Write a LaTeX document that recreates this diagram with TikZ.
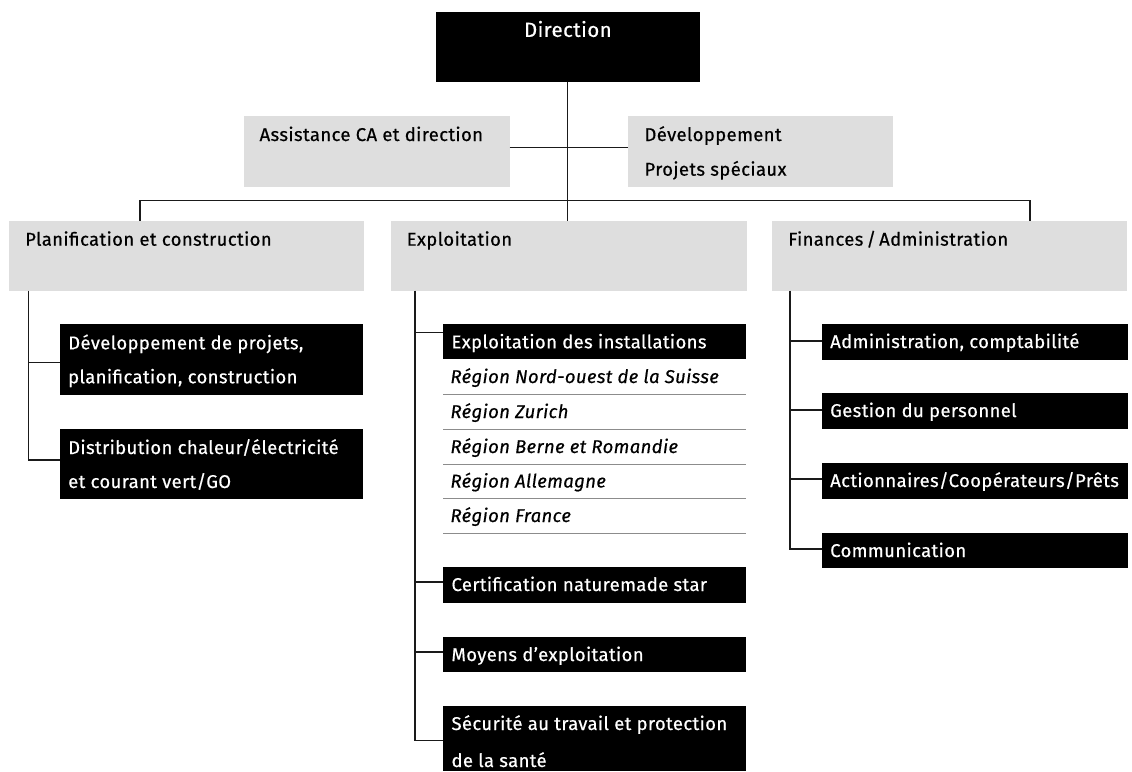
\documentclass[tikz,border=0pt]{standalone}
\usepackage{fontspec}
\setmainfont{Fira Sans}[LetterSpace=2,FakeBold=0.5]
\usetikzlibrary{calc}
\definecolor{boxgray}{HTML}{DEDEDE}
\definecolor{sepgray}{HTML}{8C8C8C}
\definecolor{linecol}{HTML}{1A1A1A}
\newcommand{\fsz}{\fontsize{18.5}{34}\selectfont}
\newcommand{\fszbig}{\fontsize{20.5}{34}\selectfont}
\newcommand{\orgbox}[6]{%
  \node[#6, anchor=north west, minimum width={#4-#2}, minimum height={#5-#3}] (#1) at (#2,#3) {};}
\tikzset{
  gbox/.style={fill=boxgray, draw=none, inner sep=0pt, outer sep=0pt},
  bbox/.style={fill=black, draw=none, inner sep=0pt, outer sep=0pt},
  rowbox/.style={draw=none, inner sep=0pt, outer sep=0pt},
  ktxt/.style={text=black, inner sep=0pt, font=\fsz},
  wtxt/.style={text=white, inner sep=0pt, font=\fsz},
  itxt/.style={text=black, inner sep=0pt, font=\fsz\itshape},
  conn/.style={draw=linecol, line width=1.2pt},
  sepline/.style={draw=sepgray, line width=1pt}
}
\begin{document}
\begin{tikzpicture}[x=1pt,y=-1pt]
\path[fill=white, use as bounding box] (0,0) rectangle (1132,771);

% Top level
\orgbox{dir}{435.7}{12.3}{700}{82.3}{bbox}
\node[wtxt, font=\fszbig, anchor=base] (dirt) at ($(dir.north)+(0,24.6)$) {Direction};

\orgbox{asst}{244.4}{116}{509.7}{187}{gbox}
\node[ktxt, anchor=base west] (asstt) at ($(asst.north west)+(15,25)$) {Assistance CA et direction};

\orgbox{dev}{628.3}{116}{892.7}{186.7}{gbox}
\node[ktxt, anchor=base west] (devt1) at ($(dev.north west)+(16,25)$) {Développement};
\node[ktxt, anchor=base west] (devt2) at ($(dev.north west)+(16,59.7)$) {Projets spéciaux};

% Second level
\orgbox{plan}{9}{220.7}{364}{290.7}{gbox}
\node[ktxt, anchor=base west] (plant) at ($(plan.north west)+(16,25)$) {Planification et construction};
\orgbox{expl}{391}{220.7}{747}{290.7}{gbox}
\node[ktxt, anchor=base west] (explt) at ($(expl.north west)+(15.5,25)$) {Exploitation};
\orgbox{fin}{772}{220.7}{1127}{290.7}{gbox}
\node[ktxt, anchor=base west] (fint) at ($(fin.north west)+(16,25)$) {Finances\,/\,Administration};

% Left column
\orgbox{pa}{60}{324.3}{362.7}{395}{bbox}
\node[wtxt, anchor=base west] (pat1) at ($(pa.north west)+(8,25)$) {Développement de projets,};
\node[wtxt, anchor=base west] (pat2) at ($(pa.north west)+(8,59)$) {planification, construction};
\orgbox{pb}{60}{429}{362.7}{499}{bbox}
\node[wtxt, anchor=base west] (pbt1) at ($(pb.north west)+(8,25)$) {Distribution chaleur/électricité};
\node[wtxt, anchor=base west] (pbt2) at ($(pb.north west)+(8,59)$) {et courant vert/GO};

% Middle column
\orgbox{ei}{443.3}{324.3}{746.3}{359.3}{bbox}
\node[wtxt, anchor=base west] (eit) at ($(ei.north west)+(8,24)$) {Exploitation des installations};
\orgbox{ra}{443.3}{359.3}{746.3}{394}{rowbox}
\orgbox{rb}{443.3}{394}{746.3}{429}{rowbox}
\orgbox{rc}{443.3}{429}{746.3}{464}{rowbox}
\orgbox{rd}{443.3}{464}{746.3}{498.5}{rowbox}
\orgbox{re}{443.3}{498.5}{746.3}{533}{rowbox}
\node[itxt, anchor=base west] (rat) at ($(ra.south west)+(7,-11)$) {Région Nord-ouest de la Suisse};
\node[itxt, anchor=base west] (rbt) at ($(rb.south west)+(7,-11)$) {Région Zurich};
\node[itxt, anchor=base west] (rct) at ($(rc.south west)+(7,-11)$) {Région Berne et Romandie};
\node[itxt, anchor=base west] (rdt) at ($(rd.south west)+(7,-11)$) {Région Allemagne};
\node[itxt, anchor=base west] (ret) at ($(re.south west)+(7,-11)$) {Région France};
\foreach \r in {ra,rb,rc,rd,re}{\draw[sepline] (\r.south west) -- (\r.south east);}

\orgbox{cert}{443.3}{567}{746.3}{603}{bbox}
\node[wtxt, anchor=base west] (certt) at ($(cert.north west)+(8,24)$) {Certification naturemade star};
\orgbox{moy}{443.3}{637}{746.3}{672}{bbox}
\node[wtxt, anchor=base west] (moyt) at ($(moy.north west)+(8,24)$) {Moyens d’exploitation};
\orgbox{sec}{443.3}{705.7}{746.3}{771}{bbox}
\node[wtxt, anchor=base west] (sect1) at ($(sec.north west)+(8,24.3)$) {Sécurité au travail et protection};
\node[wtxt, anchor=base west] (sect2) at ($(sec.north west)+(8,61.3)$) {de la santé};

% Right column
\orgbox{adm}{822}{324}{1127.7}{360}{bbox}
\node[wtxt, anchor=base west] (admt) at ($(adm.north west)+(8,24)$) {Administration, comptabilité};
\orgbox{ges}{822}{393}{1127.7}{429}{bbox}
\node[wtxt, anchor=base west] (gest) at ($(ges.north west)+(8,24)$) {Gestion du personnel};
\orgbox{act}{822}{463}{1127.7}{499}{bbox}
\node[wtxt, anchor=base west] (actt) at ($(act.north west)+(8,24)$) {Actionnaires/Coopérateurs/Prêts};
\orgbox{com}{822}{533}{1127.7}{568}{bbox}
\node[wtxt, anchor=base west] (comt) at ($(com.north west)+(8,24)$) {Communication};

% Connectors: top
\draw[conn] (dir.south) -- (dir.south |- expl.north);
\draw[conn] ($(asst.north east)+(0,31.7)$) -- ($(dev.north west)+(0,31.7)$);
\coordinate (barL) at (140,200.7);
\coordinate (barR) at (1030,200.7);
\draw[conn] (barL |- plan.north) -- (barL) -- (barR) -- (barR |- fin.north);

% Left branch
\coordinate (pl) at ($(plan.south west)+(19.3,0)$);
\coordinate (pac) at ($(pa.north west)+(0,38)$);
\coordinate (pbc) at ($(pb.north west)+(0,31)$);
\draw[conn] (pl) |- (pbc);
\draw[conn] (pl |- pac) -- (pac);

% Middle branch
\coordinate (ml) at ($(expl.south west)+(24,0)$);
\draw[conn] (ml) |- ($(sec.north west)+(0,35)$);
\draw[conn] ($(ml |- ei.north)+(0,8)$) -- ($(ei.north west)+(0,8)$);
\draw[conn] ($(ml |- cert.north)+(0,15)$) -- ($(cert.north west)+(0,15)$);
\draw[conn] ($(ml |- moy.north)+(0,15)$) -- ($(moy.north west)+(0,15)$);

% Right branch
\coordinate (fl) at ($(fin.south west)+(18,0)$);
\draw[conn] (fl) |- ($(com.north west)+(0,16)$);
\draw[conn] ($(fl |- adm.north)+(0,17)$) -- ($(adm.north west)+(0,17)$);
\draw[conn] ($(fl |- ges.north)+(0,17)$) -- ($(ges.north west)+(0,17)$);
\draw[conn] ($(fl |- act.north)+(0,16)$) -- ($(act.north west)+(0,16)$);
\end{tikzpicture}
\end{document}
